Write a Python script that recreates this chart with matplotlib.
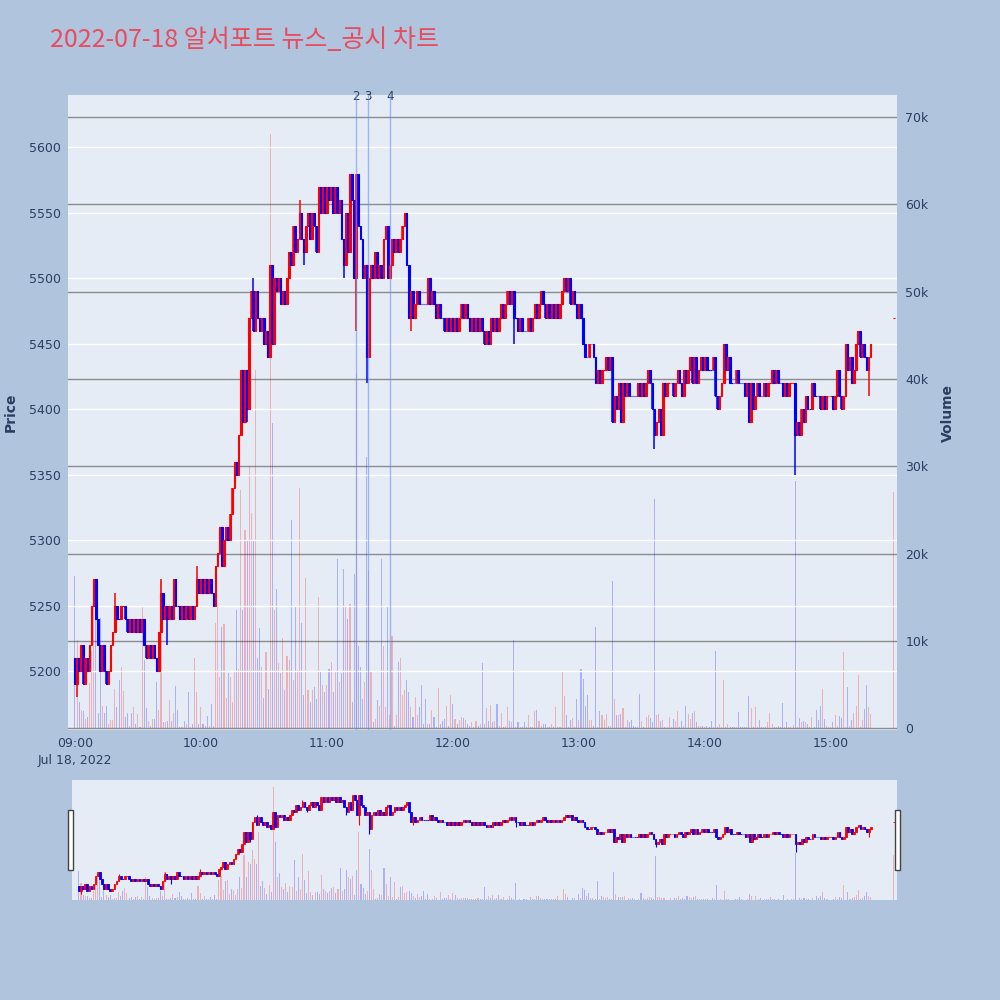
import matplotlib
matplotlib.use("Agg")
import matplotlib.pyplot as plt
from matplotlib.patches import Rectangle
from matplotlib.ticker import FixedLocator, FuncFormatter

# --- data (1-minute candles from 09:00) ---
title = "2022-07-18 알서포트 뉴스_공시 차트"
first_open = 5210
close = [
    5190, 5210, 5200, 5220, 5190, 5210, 5200, 5220, 5250, 5270,
    5240, 5220, 5200, 5220, 5200, 5190, 5200, 5220, 5230, 5250,
    5240, 5240, 5250, 5250, 5240, 5230, 5240, 5230, 5240, 5230,
    5240, 5230, 5240, 5220, 5210, 5220, 5210, 5220, 5210, 5200,
    5230, 5260, 5240, 5250, 5240, 5250, 5240, 5270, 5250, 5250,
    5240, 5250, 5240, 5250, 5240, 5250, 5240, 5250, 5270, 5260,
    5270, 5260, 5270, 5260, 5270, 5260, 5250, 5280, 5290, 5310,
    5280, 5300, 5310, 5300, 5320, 5340, 5360, 5350, 5380, 5430,
    5390, 5430, 5400, 5470, 5490, 5460, 5490, 5470, 5460, 5470,
    5450, 5460, 5440, 5510, 5450, 5500, 5490, 5500, 5480, 5490,
    5480, 5500, 5520, 5510, 5540, 5520, 5530, 5550, 5530, 5520,
    5540, 5550, 5530, 5550, 5540, 5520, 5570, 5550, 5570, 5550,
    5570, 5560, 5570, 5550, 5570, 5550, 5560, 5530, 5510, 5550,
    5520, 5580, 5560, 5500, 5580, 5540, 5530, 5500, 5510, 5440,
    5500, 5510, 5500, 5520, 5500, 5510, 5500, 5530, 5540, 5500,
    5510, 5530, 5520, 5530, 5520, 5530, 5540, 5550, 5510, 5470,
    5490, 5470, 5480, 5490, 5480, 5480, 5480, 5480, 5500, 5480,
    5490, 5480, 5470, 5480, 5470, 5470, 5460, 5470, 5460, 5470,
    5460, 5470, 5460, 5470, 5480, 5470, 5480, 5470, 5460, 5470,
    5460, 5470, 5460, 5470, 5460, 5450, 5460, 5450, 5470, 5460,
    5470, 5460, 5470, 5480, 5470, 5480, 5490, 5480, 5490, 5470,
    5470, 5460, 5470, 5460, 5460, 5460, 5470, 5460, 5470, 5480,
    5470, 5480, 5490, 5480, 5470, 5480, 5470, 5480, 5470, 5480,
    5470, 5480, 5490, 5500, 5490, 5500, 5480, 5490, 5480, 5470,
    5480, 5470, 5450, 5440, 5440, 5450, 5450, 5440, 5420, 5430,
    5420, 5430, 5430, 5440, 5430, 5440, 5390, 5410, 5400, 5420,
    5390, 5420, 5410, 5420, 5410, 5410, 5410, 5410, 5420, 5410,
    5420, 5410, 5420, 5430, 5420, 5400, 5380, 5390, 5400, 5380,
    5420, 5410, 5420, 5420, 5420, 5410, 5420, 5430, 5420, 5410,
    5430, 5420, 5430, 5440, 5420, 5440, 5420, 5430, 5440, 5430,
    5440, 5430, 5430, 5430, 5440, 5410, 5400, 5410, 5420, 5450,
    5430, 5440, 5420, 5420, 5420, 5430, 5420, 5420, 5420, 5410,
    5420, 5390, 5420, 5400, 5410, 5420, 5410, 5410, 5420, 5410,
    5420, 5420, 5430, 5420, 5430, 5420, 5420, 5410, 5420, 5410,
    5420, 5420, 5420, 5380, 5390, 5380, 5400, 5390, 5410, 5400,
    5400, 5420, 5410, 5410, 5410, 5400, 5410, 5400, 5410, 5410,
    5410, 5400, 5410, 5430, 5410, 5400, 5410, 5450, 5430, 5440,
    5420, 5430, 5450, 5460, 5440, 5450, 5440, 5430, 5440, 5450,
]
volume_k = [
    17.4, 10.1, 3.0, 2.1, 2.0, 1.1, 1.3, 5.2, 8.9, 15.8,
    16.4, 1.7, 12.6, 2.6, 1.7, 2.6, 0.5, 0.9, 0.9, 4.5,
    2.4, 5.5, 7.0, 4.3, 1.3, 1.7, 0.3, 1.7, 2.4, 0.5,
    1.6, 0.2, 14.0, 7.8, 2.3, 0.8, 0.3, 1.1, 1.1, 5.3,
    2.1, 16.9, 0.7, 0.7, 0.8, 3.2, 0.8, 1.7, 4.8, 2.1,
    0.2, 0.2, 0.8, 0.5, 4.2, 0.2, 0.5, 8.1, 4.2, 0.5,
    2.4, 0.5, 0.3, 1.4, 0.3, 2.8, 0.3, 12.0, 14.1, 5.9,
    11.6, 11.9, 3.5, 6.3, 5.9, 3.0, 6.5, 13.5, 6.8, 27.3,
    13.5, 22.7, 21.5, 30.0, 24.6, 21.5, 41.0, 8.0, 11.5, 7.0,
    3.5, 8.7, 4.5, 68.0, 35.0, 13.5, 16.0, 7.5, 6.3, 10.3,
    4.4, 8.3, 7.8, 23.8, 5.5, 14.0, 6.7, 27.5, 12.0, 3.8,
    17.2, 4.4, 3.0, 4.4, 4.7, 3.4, 15.0, 6.5, 5.0, 4.2,
    5.0, 6.8, 7.6, 4.2, 6.5, 19.4, 5.3, 6.3, 18.2, 14.0,
    12.5, 14.2, 3.0, 17.7, 40.7, 9.4, 7.0, 3.4, 5.3, 31.0,
    18.0, 6.5, 0.7, 1.1, 3.2, 2.6, 19.4, 9.4, 2.4, 14.0,
    1.5, 10.6, 0.3, 1.5, 7.6, 8.0, 3.8, 4.4, 5.5, 4.2,
    2.4, 1.3, 3.6, 1.5, 2.4, 5.0, 0.5, 3.4, 0.5, 0.5,
    2.1, 1.3, 0.1, 4.6, 0.5, 0.8, 1.1, 2.6, 0.3, 3.8,
    2.8, 1.1, 0.5, 1.0, 1.3, 1.2, 1.0, 0.5, 0.3, 0.7,
    0.2, 0.8, 0.3, 0.5, 7.5, 0.5, 2.3, 0.8, 2.7, 0.7,
    0.8, 2.8, 0.3, 1.7, 0.1, 0.3, 2.4, 0.8, 0.7, 10.1,
    0.1, 0.7, 0.1, 0.2, 0.7, 0.1, 1.5, 0.2, 0.2, 2.0,
    2.1, 0.8, 0.3, 0.5, 0.5, 0.2, 0.2, 0.5, 0.2, 2.4,
    0.1, 0.1, 6.5, 3.7, 1.5, 0.1, 1.0, 1.2, 0.1, 3.3,
    0.9, 6.8, 5.6, 2.5, 3.8, 1.0, 1.0, 0.3, 11.6, 0.2,
    2.0, 1.5, 0.9, 1.6, 0.3, 0.3, 16.9, 3.3, 1.5, 1.5,
    1.6, 2.3, 0.1, 1.0, 0.7, 1.0, 0.3, 0.1, 0.2, 3.9,
    0.8, 0.2, 1.3, 1.5, 1.2, 0.7, 26.3, 1.5, 1.6, 0.8,
    1.0, 0.1, 0.1, 1.3, 0.1, 1.1, 0.8, 2.0, 0.2, 0.8,
    0.3, 2.5, 1.6, 1.1, 1.8, 2.0, 0.7, 0.3, 0.3, 0.3,
    0.2, 0.3, 0.1, 0.8, 0.2, 8.9, 0.1, 0.5, 0.1, 5.5,
    0.2, 0.5, 0.1, 0.1, 0.2, 0.2, 1.9, 0.2, 0.1, 0.1,
    0.2, 3.7, 2.3, 0.1, 2.4, 0.2, 0.9, 0.1, 0.2, 0.2,
    0.7, 1.8, 0.5, 0.2, 0.1, 0.3, 0.1, 2.9, 0.1, 0.7,
    0.1, 0.2, 0.4, 28.3, 0.1, 1.2, 0.7, 0.8, 0.7, 0.5,
    0.1, 1.3, 0.1, 2.1, 1.0, 2.5, 4.5, 1.1, 0.3, 0.1,
    0.1, 0.7, 1.5, 0.3, 1.4, 1.2, 8.7, 0.1, 4.7, 0.3,
    1.0, 1.7, 2.6, 6.1, 0.2, 1.0, 2.2, 4.9, 2.4, 1.6,
]
# longer wicks (minute, price)
wick_high = [(19, 5260), (41, 5270), (58, 5280), (85, 5500), (107, 5560)]
wick_low = [(1, 5180), (44, 5220), (82, 5390), (109, 5510), (128, 5500), (134, 5460),
            (139, 5420), (160, 5460), (209, 5450), (276, 5370), (343, 5350), (378, 5410)]
# closing auction at 15:30
auction_minute = 390
auction_price = 5470
auction_volume_k = 27.0
# news / disclosure markers
news_minutes = [133.8, 139.5, 150.0]
news_labels = ["2", "3", "4"]
hour_ticks = [0, 60, 120, 180, 240, 300, 360]
hour_labels = ["09:00\nJul 18, 2022", "10:00", "11:00", "12:00", "13:00", "14:00", "15:00"]

# --- build OHLC ---
minutes = list(range(len(close))) + [auction_minute]
opens = [first_open] + close[:-1] + [auction_price]
closes = close + [auction_price]
vols = [v * 1000 for v in volume_k + [auction_volume_k]]
highs = [max(o, c) for o, c in zip(opens, closes)]
lows = [min(o, c) for o, c in zip(opens, closes)]
for m, p in wick_high:
    highs[m] = p
for m, p in wick_low:
    lows[m] = p
body_bottom = [min(o, c) for o, c in zip(opens, closes)]
body_height = [abs(c - o) for o, c in zip(opens, closes)]

# red = up, blue = down; flat candles keep the direction vs previous close
colors = []
last_up = True
prev = first_open
for o, c in zip(opens, closes):
    if c > o:
        up = True
    elif c < o:
        up = False
    elif c != prev:
        up = c > prev
    else:
        up = last_up
    colors.append("#ff0000" if up else "#0000ff")
    last_up = up
    prev = c
vol_colors = [(1, 0, 0, 0.25) if c == "#ff0000" else (0, 0, 1, 0.25) for c in colors]

BG = "#b0c4de"
PLOT_BG = "#e5ecf6"
TXT = "#2a3f5f"
XLIM = (-3.3, 391.5)
PLIM = (5155, 5640)
VLIM = (-200, 72500)


def draw(ax_p, ax_v, body_w=0.7, lw_body=0.8, lw_wick=1.1, vol_w=0.5):
    ax_v.bar(minutes, vols, width=vol_w, color=vol_colors, linewidth=0)
    ax_p.vlines(minutes, lows, highs, colors=colors, linewidth=lw_wick)
    ax_p.bar(minutes, body_height, bottom=body_bottom, width=body_w,
             color=colors, edgecolor=colors, linewidth=lw_body)
    ax_p.set_xlim(*XLIM)
    ax_p.set_ylim(*PLIM)
    ax_v.set_ylim(*VLIM)
    ax_v.set_zorder(0)
    ax_p.set_zorder(1)
    ax_p.patch.set_visible(False)
    ax_v.patch.set_visible(True)
    ax_v.patch.set_facecolor(PLOT_BG)
    for a in (ax_p, ax_v):
        for s in a.spines.values():
            s.set_visible(False)


fig = plt.figure(figsize=(10, 10), dpi=100)
fig.patch.set_facecolor(BG)

# --- main chart ---
ax = fig.add_axes([0.068, 0.27, 0.829, 0.635])
axv = ax.twinx()
draw(ax, axv)

ax.yaxis.set_major_locator(FixedLocator(range(5200, 5601, 50)))
ax.grid(axis="y", color="white", linewidth=1.0)
ax.set_axisbelow(True)
axv.yaxis.set_major_locator(FixedLocator(range(0, 70001, 10000)))
axv.yaxis.set_major_formatter(FuncFormatter(lambda v, p: "0" if v == 0 else f"{int(v / 1000)}k"))
axv.grid(axis="y", color="#8c8c8c", linewidth=1.0)
axv.set_axisbelow(True)

ax.set_xticks(hour_ticks)
ax.set_xticklabels(hour_labels)
ax.tick_params(axis="x", length=0, pad=5, labelsize=9, labelcolor=TXT)
ax.tick_params(axis="y", length=0, pad=5, labelsize=9, labelcolor=TXT)
axv.tick_params(axis="y", length=0, pad=6, labelsize=9, labelcolor=TXT)
for lbl in ax.get_xticklabels():
    lbl.set_linespacing(1.4)

ax.set_ylabel("Price", fontsize=10, fontweight="bold", color=TXT)
ax.yaxis.set_label_coords(-0.061, 0.5)
axv.set_ylabel("Volume", fontsize=10, fontweight="bold", color=TXT)
axv.yaxis.set_label_coords(1.053, 0.5)

for m, t in zip(news_minutes, news_labels):
    ax.axvline(m, color="#6f8ef0", alpha=0.6, linewidth=1.0, zorder=5)
    ax.text(m, PLIM[1] - 1, t, ha="center", va="center", fontsize=8.5, color=TXT)

# --- range slider ---
axs = fig.add_axes([0.072, 0.10, 0.825, 0.12])
axsv = axs.twinx()
draw(axs, axsv, body_w=0.8, lw_body=0.6, lw_wick=0.8, vol_w=0.5)
for a in (axs, axsv):
    a.set_xticks([])
    a.set_yticks([])
for xh in (0.068, 0.895):
    fig.patches.append(Rectangle((xh, 0.13), 0.005, 0.06, transform=fig.transFigure,
                                 facecolor="white", edgecolor="#444444", linewidth=1.0))

fig.text(0.05, 0.96, title, fontsize=18, color="#e84c5f",
         family=["Noto Sans CJK KR", "DejaVu Sans"], ha="left", va="center")

fig.savefig("out.png", dpi=100, facecolor=BG)
